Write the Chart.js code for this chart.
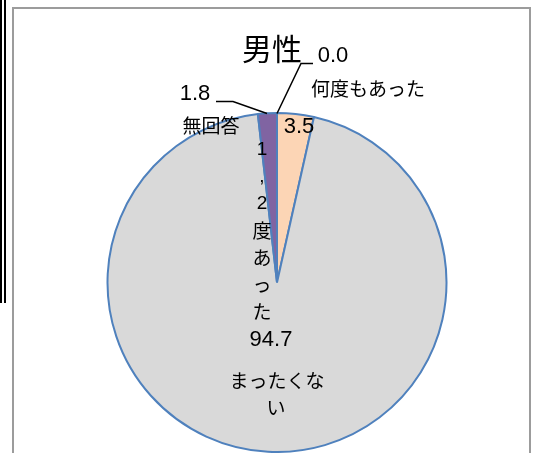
<!DOCTYPE html>
<html>
<head>
<meta charset="utf-8">
<script src="https://cdn.jsdelivr.net/npm/chart.js@4"></script>
<style>
    body { margin: 0; background: #ffffff; }
    #wrap { position: relative; width: 537px; height: 453px; overflow: hidden; }
    .barra { position: absolute; top: 0; width: 2px; height: 303px; background: #000000; }
    #marc { position: absolute; left: 12px; top: 7px; width: 515px; height: 500px;
            border: 2px solid #9c9c9c; border-bottom: none; }
    #myChart { position: absolute; left: 0; top: 0; }
</style>
</head>
<body>
<div id="wrap">
    <div class="barra" style="left:0px"></div>
    <div class="barra" style="left:4px"></div>
    <div id="marc"></div>
    <canvas id="myChart" width="537" height="453"></canvas>
</div>
<script>
let titol = "男性";
let categories = ["何度もあった", "1,2度あった", "まったくない", "無回答"];
let valors = [0.0, 3.5, 94.7, 1.8];
let colors = ["#f79646", "#fcd5b5", "#d9d9d9", "#8064a2"];

// on va cada etiqueta, respecte al centre del pastis
let posValor = [[56, -227], [22, -156], [-6, 57], [-82, -189]];
let posNom = [[91, -194], null, null, [-66, -157]];

function text(ctx, t, x, y, font) {
    ctx.font = font;
    ctx.fillText(t, x, y);
}

let etiquetes = {
    id: "etiquetes",
    afterDatasetsDraw(chart) {
        let ctx = chart.ctx;
        let arc = chart.getDatasetMeta(0).data[0];
        let cx = arc.x;
        let cy = arc.y;
        let fontNum = "22px 'Liberation Sans', sans-serif";
        let fontJp = "19px 'Noto Sans CJK JP', sans-serif";

        ctx.save();
        ctx.fillStyle = "#000000";
        ctx.textAlign = "center";
        ctx.textBaseline = "middle";

        text(ctx, titol, cx - 5, cy - 234, "30px 'Noto Sans CJK JP', sans-serif");

        for (let i = 0; i < valors.length; i++) {
            let p = posValor[i];
            text(ctx, valors[i].toFixed(1), cx + p[0], cy + p[1], fontNum);
            if (posNom[i] != null) {
                text(ctx, categories[i], cx + posNom[i][0], cy + posNom[i][1], fontJp);
            }
        }

        // "1,2度あった" en columna
        let lletres = categories[1].split("");
        for (let i = 0; i < lletres.length; i++) {
            let f = (lletres[i] == "1" || lletres[i] == "2" || lletres[i] == ",") ? "19px 'Liberation Sans', sans-serif" : fontJp;
            text(ctx, lletres[i], cx - 15, cy - 133 + i * 27, f);
        }

        // "まったくない" en dues linies
        let nom = categories[2];
        text(ctx, nom.slice(0, 5), cx, cy + 98, fontJp);
        text(ctx, nom.slice(5), cx - 1, cy + 125, fontJp);

        // linies guia
        ctx.strokeStyle = "#000000";
        ctx.lineWidth = 1.5;
        ctx.beginPath();
        ctx.moveTo(cx + 36, cy - 219);
        ctx.lineTo(cx + 24, cy - 219);
        ctx.lineTo(cx, cy - 169);
        ctx.moveTo(cx - 61, cy - 181);
        ctx.lineTo(cx - 44, cy - 181);
        ctx.lineTo(cx - 10, cy - 169);
        ctx.stroke();
        ctx.restore();
    }
};

let canvas = document.getElementById("myChart");

new Chart(canvas, {
    type: "pie",
    data: {
        labels: categories,
        datasets: [{
            data: valors,
            backgroundColor: colors,
            borderColor: "#4f81bd",
            borderWidth: 2
        }]
    },
    options: {
        responsive: false,
        animation: false,
        layout: {
            padding: { left: 106, right: 89, top: 112, bottom: 0 }
        },
        plugins: {
            legend: { display: false },
            tooltip: { enabled: false }
        }
    },
    plugins: [etiquetes]
});
</script>
</body>
</html>
